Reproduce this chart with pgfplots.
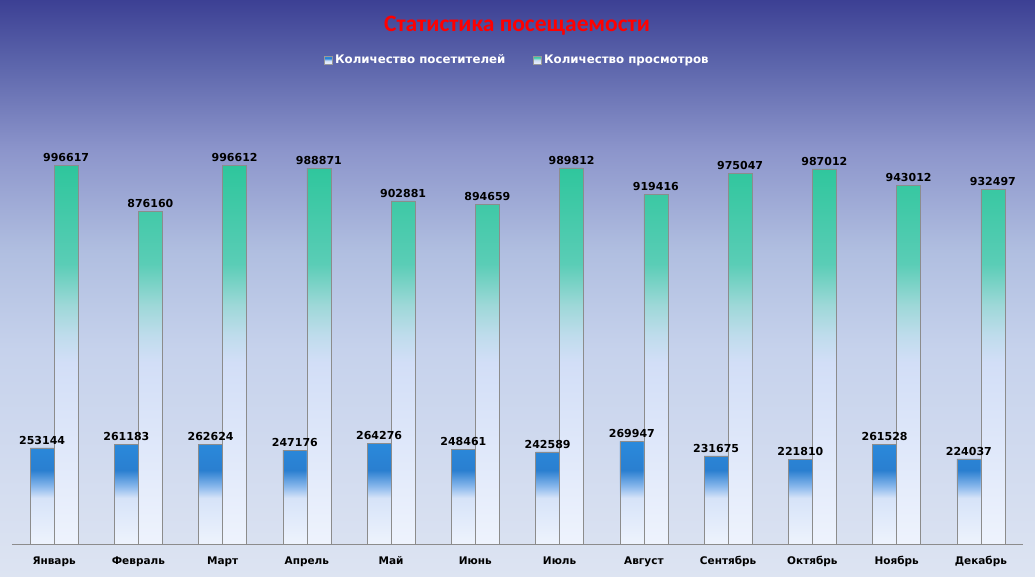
\documentclass[border=0pt]{standalone}
\usepackage{pgfplots}
\pgfplotsset{compat=1.18}
\usepackage{fontspec}
\setmainfont{DejaVu Sans}
\newfontfamily\titlefont{Carlito}

\definecolor{bg0}{HTML}{DDE4F2}
\definecolor{bg1}{HTML}{C6D2EC}
\definecolor{bg2}{HTML}{B0BEE0}
\definecolor{bg3}{HTML}{8C95CB}
\definecolor{bg4}{HTML}{5A63AA}
\definecolor{bg5}{HTML}{3C4094}
\pgfdeclareverticalshading{bgshade}{100bp}{color(0bp)=(bg0); color(25bp)=(bg0); color(44.7bp)=(bg1); color(53.3bp)=(bg2); color(62bp)=(bg3); color(69.8bp)=(bg4); color(75bp)=(bg5); color(100bp)=(bg5)}

\definecolor{bl0}{HTML}{EEF3FD}
\definecolor{bl1}{HTML}{D6E3F8}
\definecolor{bl2}{HTML}{8AB8EC}
\definecolor{bl3}{HTML}{2A7FD0}
\definecolor{bl4}{HTML}{2A8ADC}
\pgfdeclareverticalshading{blueshade}{100bp}{color(0bp)=(bl0); color(25bp)=(bl0); color(47.5bp)=(bl1); color(53bp)=(bl2); color(61bp)=(bl3); color(75bp)=(bl4); color(100bp)=(bl4)}

\definecolor{gr1}{HTML}{D2DEF7}
\definecolor{gr15}{HTML}{BFDCEC}
\definecolor{gr2}{HTML}{9ED8D8}
\definecolor{gr3}{HTML}{5ACDB6}
\definecolor{gr4}{HTML}{2EC69C}
\pgfdeclareverticalshading{greenshade}{100bp}{color(0bp)=(bl0); color(25bp)=(bl0); color(49bp)=(gr1); color(52.5bp)=(gr15); color(56.5bp)=(gr2); color(62bp)=(gr3); color(75bp)=(gr4); color(100bp)=(gr4)}

\begin{document}
\begin{tikzpicture}
\shade[shading=bgshade] (0,0) rectangle (1035pt,577pt);
\node[font=\titlefont\bfseries\fontsize{23.5}{26}\selectfont, text=red] at (517pt,551pt) {Статистика посещаемости};
\begin{axis}[
  at={(12pt,33pt)}, anchor=south west,
  scale only axis, width=1011pt, height=456pt,
  ymin=0, ymax=1200000,
  xmin=-0.5, xmax=11.5,
  axis x line*=bottom, axis y line=none,
  x axis line style={draw=black!45, line width=0.8pt, -},
  xtick={0,...,11},
  xticklabels={Январь,Февраль,Март,Апрель,Май,Июнь,Июль,Август,Сентябрь,Октябрь,Ноябрь,Декабрь},
  xticklabel style={font=\bfseries\fontsize{10.5}{12}\selectfont, yshift=-9pt},
  major tick length=0pt,
  ybar=0pt, bar width=24pt,
  point meta=explicit symbolic,
  nodes near coords,
  nodes near coords style={font=\bfseries\fontsize{11}{13}\selectfont, text=black},
  legend style={at={(0.5,1.061)}, anchor=center, draw=none, fill=none,
    font=\bfseries\fontsize{11.8}{13}\selectfont, text=white, legend columns=2,
    /tikz/every even column/.append style={column sep=26pt}},
  legend cell align=left,
]
\addplot[draw=black!45, line width=0.6pt, shading=blueshade,
  legend image code/.code={\shade[shading=blueshade, draw=black!40] (0pt,-4pt) rectangle (8pt,4pt);}]
coordinates {(0,253144)[253144] (1,261183)[261183] (2,262624)[262624] (3,247176)[247176] (4,264276)[264276] (5,248461)[248461] (6,242589)[242589] (7,269947)[269947] (8,231675)[231675] (9,221810)[221810] (10,261528)[261528] (11,224037)[224037]};
\addplot[draw=black!45, line width=0.6pt, shading=greenshade,
  legend image code/.code={\shade[shading=greenshade, draw=black!40] (0pt,-4pt) rectangle (8pt,4pt);}]
coordinates {(0,996617)[996617] (1,876160)[876160] (2,996612)[996612] (3,988871)[988871] (4,902881)[902881] (5,894659)[894659] (6,989812)[989812] (7,919416)[919416] (8,975047)[975047] (9,987012)[987012] (10,943012)[943012] (11,932497)[932497]};
\legend{Количество посетителей, Количество просмотров}
\end{axis}
\pgfresetboundingbox
\useasboundingbox (0,0) rectangle (1035pt,577pt);
\end{tikzpicture}
\end{document}
